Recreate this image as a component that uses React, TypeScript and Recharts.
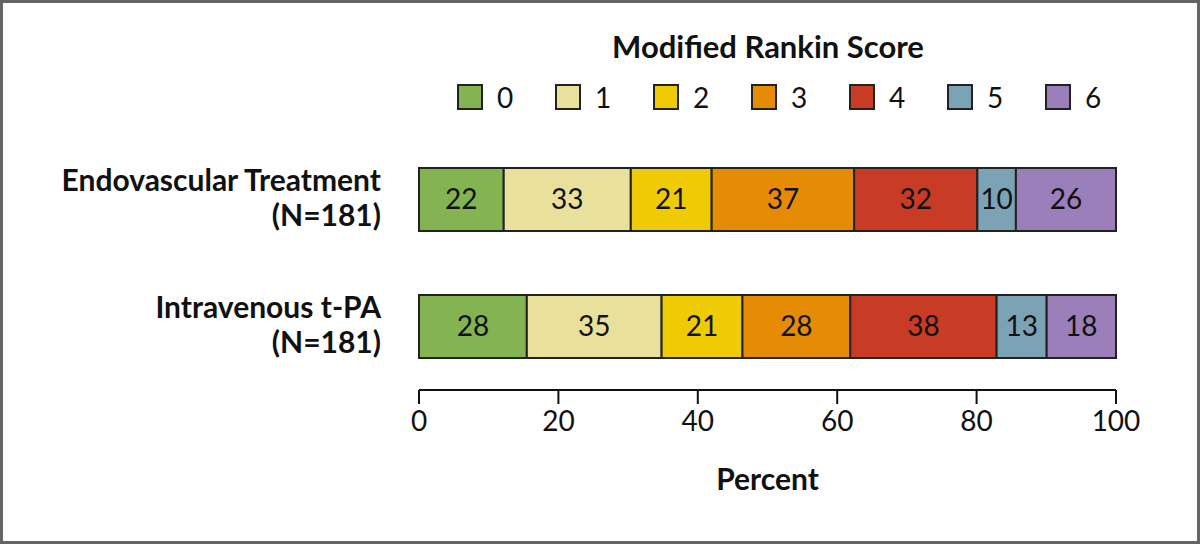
import React from "react";
import {
  BarChart,
  Bar,
  XAxis,
  YAxis,
  Legend,
  LabelList,
} from "recharts";

// modified Rankin score 0..6, patient counts per group
const scores = ["0", "1", "2", "3", "4", "5", "6"];
const colors = ["#84b452", "#e9e09b", "#efcb05", "#e68b04", "#c83b24", "#7ca2b6", "#9a7fbb"];
const groups = ["Endovascular Treatment", "Intravenous t-PA"];
const groupN = [181, 181];
const endovascular = [22, 33, 21, 37, 32, 10, 26];
const intravenous = [28, 35, 21, 28, 38, 13, 18];
const xTicks = [0, 20, 40, 60, 80, 100];

const counts = [endovascular, intravenous];

const data = groups.map((g, i) => {
  const row: any = { name: g, n: groupN[i] };
  counts[i].forEach((c, k) => {
    row["p" + k] = (c / groupN[i]) * 100;
    row["c" + k] = c;
  });
  return row;
});

const FONT = "Lato, 'Open Sans', sans-serif";

const GroupTick = ({ x, y, payload, index }: any) => (
  <g>
    <text x={x} y={y - 19} dy="0.35em" textAnchor="end" fontSize={30} fontWeight={700} fill="#111" fontFamily={FONT}>
      {payload.value}
    </text>
    <text x={x} y={y + 16} dy="0.35em" textAnchor="end" fontSize={30} fontWeight={700} fill="#111" fontFamily={FONT}>
      {`(N=${groupN[index ?? groups.indexOf(payload.value)]})`}
    </text>
  </g>
);

const LegendBox = () => (
  <div style={{ position: "relative", width: 1200, height: 130, fontFamily: FONT }}>
    <div
      style={{
        position: "absolute",
        left: 768,
        top: 27,
        transform: "translateX(-50%)",
        fontSize: 31,
        fontWeight: 700,
        color: "#111",
        whiteSpace: "nowrap",
      }}
    >
      Modified Rankin Score
    </div>
    {scores.map((s, i) => (
      <div
        key={s}
        style={{ position: "absolute", left: 457 + i * 98, top: 84, display: "flex", alignItems: "center" }}
      >
        <div
          style={{
            width: 22,
            height: 22,
            background: colors[i],
            border: "2px solid #222",
          }}
        />
        <span style={{ marginLeft: 14, fontSize: 28, color: "#111", lineHeight: "26px" }}>{s}</span>
      </div>
    ))}
  </div>
);

export default function App() {
  return (
    <div style={{ position: "fixed", left: 0, top: 0, width: 1200, height: 544, background: "#fff" }}>
      <BarChart
        width={1200}
        height={544}
        data={data}
        layout="vertical"
        barSize={63}
        margin={{ top: 6, right: 84, bottom: 44, left: 0 }}
      >
        <XAxis
          type="number"
          domain={[0, 100]}
          ticks={xTicks}
          height={110}
          tickSize={14}
          tickMargin={7}
          axisLine={{ stroke: "#111", strokeWidth: 2 }}
          tickLine={{ stroke: "#111", strokeWidth: 2 }}
          tick={{ fill: "#111", fontSize: 28, fontFamily: FONT }}
          label={{
            value: "Percent",
            position: "insideBottom",
            offset: 10,
            fill: "#111",
            fontSize: 30,
            fontWeight: 700,
            fontFamily: FONT,
          }}
        />
        <YAxis
          type="category"
          dataKey="name"
          width={419}
          axisLine={false}
          tickLine={false}
          tickSize={0}
          tickMargin={38}
          tick={<GroupTick />}
        />
        <Legend
          verticalAlign="top"
          wrapperStyle={{ position: "absolute", left: 0, top: 0, width: 1200, height: 130 }}
          content={() => <LegendBox />}
        />
        {scores.map((s, i) => (
          <Bar
            key={s}
            dataKey={"p" + i}
            stackId="mrs"
            fill={colors[i]}
            stroke="#222"
            strokeWidth={2}
            isAnimationActive={false}
          >
            <LabelList
              dataKey={"c" + i}
              position="center"
              fill="#111"
              fontSize={28}
              fontFamily={FONT}
            />
          </Bar>
        ))}
      </BarChart>
      <div
        style={{
          position: "absolute",
          inset: 0,
          border: "3px solid #666",
          pointerEvents: "none",
        }}
      />
    </div>
  );
}
